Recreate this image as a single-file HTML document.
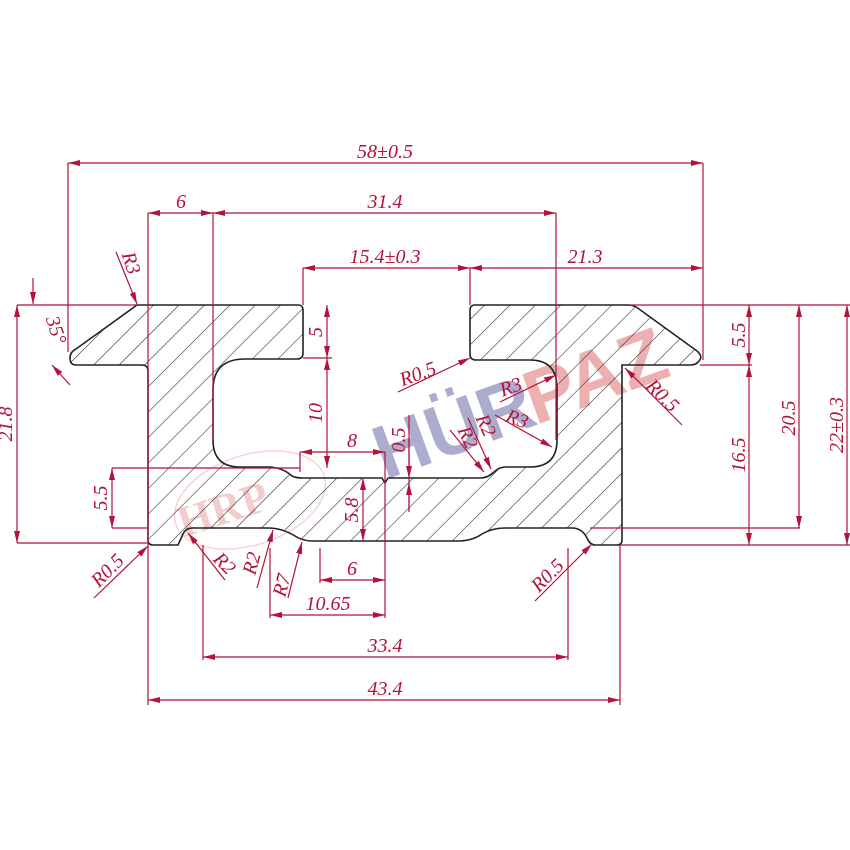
<!DOCTYPE html>
<html><head><meta charset="utf-8"><style>
html,body{margin:0;padding:0;background:#fff;}
svg{display:block}
.d{stroke:#b3123a;stroke-width:1.2;fill:none}
.t{fill:#b3123a;font-family:"Liberation Serif",serif;font-style:italic;font-size:20px;text-anchor:middle}
.wm{font-family:"Liberation Sans",sans-serif;font-weight:bold;}
</style></head><body>
<svg width="850" height="850" viewBox="0 0 850 850" xmlns="http://www.w3.org/2000/svg">
<defs>
<pattern id="h" patternUnits="userSpaceOnUse" width="18" height="18" patternTransform="rotate(45)">
<line x1="0" y1="0" x2="0" y2="18" stroke="#222" stroke-width="1.1"/>
</pattern>
<marker id="a" viewBox="0 0 12 6" refX="12" refY="3" markerWidth="12" markerHeight="6" orient="auto-start-reverse" markerUnits="userSpaceOnUse">
<path d="M0,0 L12,3 L0,6 Z" fill="#b3123a"/>
</marker>
</defs>

<!-- watermark -->
<g opacity="0.55" transform="rotate(-20 385 480)">
<text class="wm" x="385" y="480" font-size="76" fill="#6a6aa8">HÜR</text>
<text class="wm" x="545" y="480" font-size="76" fill="#e07070">PAZ</text>
</g>
<g opacity="0.45" transform="rotate(-18 250 500)">
<text x="175" y="515" style="font-family:'Liberation Serif',serif;font-weight:bold" font-size="44" fill="#e89090">HRP</text>
<ellipse cx="250" cy="500" rx="78" ry="45" fill="none" stroke="#f0a0a0" stroke-width="1.5"/>
</g>

<!-- profile -->
<path d="M137,305 L298,305 Q303,305 303,310 L303,353 Q303,359 297,359 L245,359 Q213,359 213,390 L213,440 Q213,467 240,467 L268,467 Q282,467 292,476 Q296,478 302,478 L382,478 L385,483 L388,478 L480,478 Q488,478 494,472 Q499,467 506,467 L530,467 Q557,467 557,440 L557,388 Q557,360 530,360 L476,360 Q470,360 470,354 L470,310 Q470,305 475,305 L628,305 Q634,305 639,309 L697,351 Q704,357 698,362 Q696,365 690,365 L622,365 L622,540 Q622,545 617,545 L595,545 Q590,545 587,538 Q582,528 572,528 L505,528 Q492,528 482,534 Q472,541 458,541 L312,541 Q303,541 295,536 Q282,528 268,528 L192,528 Q186,528 183,534 L178,545 L153,545 Q148,545 148,540 L148,371 Q148,365 142,365 L76,365 Q70,365 70,358 Q70,352 76,349 L137,305 Z" fill="url(#h)" stroke="#222" stroke-width="1.6"/>

<g class="d">
<path d="M68,163 V352 M703,163 V360 M148,213 V705 M213,213 V440 M556,213 V440 M303,268 V305 M470,268 V305 M620,545 V705 M203,545 V660 M568,548 V660 M270,548 V618 M320,548 V583 M385,452 V618 M300,452 V472 M409,415 V512"/>
<path d="M17,305 H137 M17,543 H148 M112,468 H300 M112,528 H148 M303,358 H332 M630,305 H850 M590,528 H800 M620,545 H850 M700,365 H752"/>
<line x1="68" y1="163" x2="703" y2="163" marker-start="url(#a)" marker-end="url(#a)"/>
<line x1="148" y1="213" x2="213" y2="213" marker-start="url(#a)" marker-end="url(#a)"/>
<line x1="213" y1="213" x2="556" y2="213" marker-start="url(#a)" marker-end="url(#a)"/>
<line x1="303" y1="268" x2="470" y2="268" marker-start="url(#a)" marker-end="url(#a)"/>
<line x1="470" y1="268" x2="703" y2="268" marker-start="url(#a)" marker-end="url(#a)"/>
<line x1="17" y1="305" x2="17" y2="543" marker-start="url(#a)" marker-end="url(#a)"/>
<line x1="112" y1="468" x2="112" y2="528" marker-start="url(#a)" marker-end="url(#a)"/>
<line x1="327" y1="305" x2="327" y2="358" marker-start="url(#a)" marker-end="url(#a)"/>
<line x1="327" y1="358" x2="327" y2="468" marker-start="url(#a)" marker-end="url(#a)"/>
<line x1="300" y1="452" x2="385" y2="452" marker-start="url(#a)" marker-end="url(#a)"/>
<line x1="409" y1="440" x2="409" y2="478" marker-end="url(#a)"/>
<line x1="409" y1="510" x2="409" y2="483" marker-end="url(#a)"/>
<line x1="363" y1="478" x2="363" y2="541" marker-start="url(#a)" marker-end="url(#a)"/>
<line x1="320" y1="580" x2="385" y2="580" marker-start="url(#a)" marker-end="url(#a)"/>
<line x1="270" y1="615" x2="385" y2="615" marker-start="url(#a)" marker-end="url(#a)"/>
<line x1="203" y1="657" x2="568" y2="657" marker-start="url(#a)" marker-end="url(#a)"/>
<line x1="148" y1="700" x2="620" y2="700" marker-start="url(#a)" marker-end="url(#a)"/>
<line x1="749" y1="305" x2="749" y2="365" marker-start="url(#a)" marker-end="url(#a)"/>
<line x1="749" y1="365" x2="749" y2="545" marker-start="url(#a)" marker-end="url(#a)"/>
<line x1="799" y1="305" x2="799" y2="528" marker-start="url(#a)" marker-end="url(#a)"/>
<line x1="847" y1="305" x2="847" y2="545" marker-start="url(#a)" marker-end="url(#a)"/>
<line x1="116" y1="252" x2="137" y2="304" marker-end="url(#a)"/>
<line x1="33" y1="278" x2="33" y2="304" marker-end="url(#a)"/>
<line x1="70" y1="385" x2="52" y2="365" marker-end="url(#a)"/>
<line x1="94" y1="598" x2="148" y2="546" marker-end="url(#a)"/>
<line x1="225" y1="580" x2="188" y2="533" marker-end="url(#a)"/>
<line x1="257" y1="588" x2="273" y2="530" marker-end="url(#a)"/>
<line x1="288" y1="598" x2="302" y2="542" marker-end="url(#a)"/>
<line x1="535" y1="601" x2="592" y2="544" marker-end="url(#a)"/>
<line x1="398" y1="392" x2="470" y2="358" marker-end="url(#a)"/>
<line x1="500" y1="402" x2="556" y2="375" marker-end="url(#a)"/>
<line x1="495" y1="415" x2="552" y2="447" marker-end="url(#a)"/>
<line x1="450" y1="430" x2="484" y2="472" marker-end="url(#a)"/>
<line x1="468" y1="418" x2="491" y2="469" marker-end="url(#a)"/>
<line x1="682" y1="425" x2="625" y2="368" marker-end="url(#a)"/>
</g>

<g class="t">
<text x="385" y="158">58±0.5</text>
<text x="181" y="208">6</text>
<text x="385" y="208">31.4</text>
<text x="385" y="263">15.4±0.3</text>
<text x="585" y="263">21.3</text>
<text x="352" y="447">8</text>
<text x="352" y="575">6</text>
<text x="328" y="610">10.65</text>
<text x="385" y="652">33.4</text>
<text x="385" y="695">43.4</text>
<text transform="translate(12,424) rotate(-90)">21.8</text>
<text transform="translate(107,498) rotate(-90)">5.5</text>
<text transform="translate(322,332) rotate(-90)">5</text>
<text transform="translate(322,413) rotate(-90)">10</text>
<text transform="translate(405,440) rotate(-90)">0.5</text>
<text transform="translate(358,510) rotate(-90)">5.8</text>
<text transform="translate(745,335) rotate(-90)">5.5</text>
<text transform="translate(745,455) rotate(-90)">16.5</text>
<text transform="translate(795,418) rotate(-90)">20.5</text>
<text transform="translate(843,425) rotate(-90)">22±0.3</text>
<text transform="translate(125,265) rotate(72)">R3</text>
<text transform="translate(50,332) rotate(72)">35°</text>
<text transform="translate(112,575) rotate(-45)">R0.5</text>
<text transform="translate(220,568) rotate(45)">R2</text>
<text transform="translate(258,565) rotate(-75)">R2</text>
<text transform="translate(288,587) rotate(-75)">R7</text>
<text transform="translate(552,580) rotate(-45)">R0.5</text>
<text transform="translate(420,380) rotate(-20)">R0.5</text>
<text transform="translate(513,393) rotate(-20)">R3</text>
<text transform="translate(515,425) rotate(20)">R3</text>
<text transform="translate(462,440) rotate(65)">R2</text>
<text transform="translate(480,428) rotate(65)">R2</text>
<text transform="translate(658,400) rotate(45)">R0.5</text>
</g>
</svg>
</body></html>
